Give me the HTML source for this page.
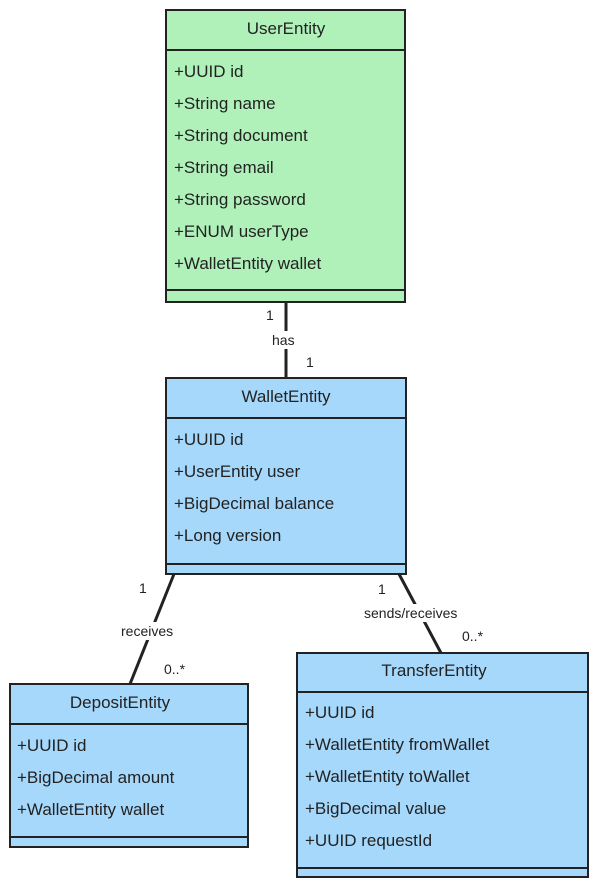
<!DOCTYPE html>
<html><head><meta charset="utf-8"><style>
html,body{margin:0;padding:0;background:#fff;}
svg{display:block;}
text{font-family:"Liberation Sans","DejaVu Sans",sans-serif;fill:#222;}
.t{font-size:17px;}
.h{font-size:17px;text-anchor:middle;}
.l{font-size:14px;}
</style></head><body>
<svg width="598" height="889" viewBox="0 0 598 889" xmlns="http://www.w3.org/2000/svg">
<g stroke="#222" stroke-width="3" fill="none">
<line x1="286" y1="302" x2="286" y2="378"/>
<line x1="174" y1="574" x2="130" y2="684"/>
<line x1="399" y1="574" x2="441" y2="653"/>
</g>
<rect x="270" y="331" width="32" height="18" fill="#fff"/>
<rect x="119" y="622" width="64" height="18" fill="#fff"/>
<rect x="363" y="604" width="116" height="18" fill="#fff"/>
<text class="l" x="266" y="320">1</text>
<text class="l" x="272" y="345">has</text>
<text class="l" x="306" y="367">1</text>
<text class="l" x="139" y="593">1</text>
<text class="l" x="121" y="636">receives</text>
<text class="l" x="164" y="674">0..*</text>
<text class="l" x="378" y="594">1</text>
<text class="l" x="364" y="618">sends/receives</text>
<text class="l" x="462" y="641">0..*</text>

<g stroke="#222" stroke-width="2">
<rect x="166" y="10" width="239" height="292" fill="#b0f1b9"/>
<line x1="166" y1="50" x2="405" y2="50"/>
<line x1="166" y1="290" x2="405" y2="290"/>
</g>
<text class="h" x="286" y="34">UserEntity</text>
<text class="t" x="174" y="77">+UUID id</text>
<text class="t" x="174" y="109">+String name</text>
<text class="t" x="174" y="141">+String document</text>
<text class="t" x="174" y="173">+String email</text>
<text class="t" x="174" y="205">+String password</text>
<text class="t" x="174" y="237">+ENUM userType</text>
<text class="t" x="174" y="269">+WalletEntity wallet</text>

<g stroke="#222" stroke-width="2">
<rect x="166" y="378" width="240" height="196" fill="#a6d8fc"/>
<line x1="166" y1="418" x2="406" y2="418"/>
<line x1="166" y1="564" x2="406" y2="564"/>
</g>
<text class="h" x="286" y="402">WalletEntity</text>
<text class="t" x="174" y="445">+UUID id</text>
<text class="t" x="174" y="477">+UserEntity user</text>
<text class="t" x="174" y="509">+BigDecimal balance</text>
<text class="t" x="174" y="541">+Long version</text>

<g stroke="#222" stroke-width="2">
<rect x="10" y="684" width="238" height="163" fill="#a6d8fc"/>
<line x1="10" y1="724" x2="248" y2="724"/>
<line x1="10" y1="837" x2="248" y2="837"/>
</g>
<text class="h" x="120" y="708">DepositEntity</text>
<text class="t" x="17" y="751">+UUID id</text>
<text class="t" x="17" y="783">+BigDecimal amount</text>
<text class="t" x="17" y="815">+WalletEntity wallet</text>

<g stroke="#222" stroke-width="2">
<rect x="297" y="653" width="291" height="224" fill="#a6d8fc"/>
<line x1="297" y1="692" x2="588" y2="692"/>
<line x1="297" y1="868" x2="588" y2="868"/>
</g>
<text class="h" x="434" y="676">TransferEntity</text>
<text class="t" x="305" y="718">+UUID id</text>
<text class="t" x="305" y="750">+WalletEntity fromWallet</text>
<text class="t" x="305" y="782">+WalletEntity toWallet</text>
<text class="t" x="305" y="814">+BigDecimal value</text>
<text class="t" x="305" y="846">+UUID requestId</text>
</svg>
</body></html>
